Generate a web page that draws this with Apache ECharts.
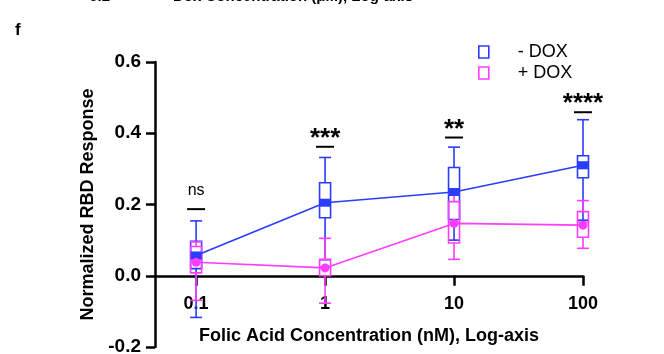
<!DOCTYPE html>
<html>
<head>
<meta charset="utf-8">
<script src="https://cdn.jsdelivr.net/npm/echarts@6/dist/echarts.min.js"></script>
<style>
  html, body { margin: 0; padding: 0; background: #fff; }
  #chart { width: 664px; height: 354px; }
</style>
</head>
<body>
<div id="chart"></div>
<script>
var concentrations = [0.1, 1, 10, 100];

// - DOX box and whisker values
var minusDoxMin    = [-0.117, 0.045, 0.100, 0.156];
var minusDoxQ1     = [0.020, 0.163, 0.158, 0.275];
var minusDoxMedian = [0.058, 0.205, 0.240, 0.318];
var minusDoxQ3     = [0.097, 0.261, 0.304, 0.337];
var minusDoxMax    = [0.154, 0.332, 0.361, 0.438];
var minusDoxMean   = [0.057, 0.205, 0.235, 0.310];

// + DOX box and whisker values
var plusDoxMin    = [-0.069, -0.077, 0.046, 0.077];
var plusDoxQ1     = [0.008, 0.000, 0.092, 0.108];
var plusDoxMedian = [0.045, 0.025, 0.150, 0.150];
var plusDoxQ3     = [0.082, 0.046, 0.208, 0.180];
var plusDoxMax    = [0.095, 0.105, 0.229, 0.211];
var plusDoxMean   = [0.038, 0.022, 0.147, 0.142];

// significance marks
var sigLabels = ['ns', '***', '**', '****'];
var sigBarValues = [0.187, 0.362, 0.388, 0.459];

var BLUE = '#2a3cff';
var PINK = '#ff3cff';
var FONT = '"Liberation Sans", Arial, Helvetica, sans-serif';

function boxData(mn, q1, md, q3, mx) {
    return concentrations.map(function (c, i) {
        return [c, mn[i], q1[i], md[i], q3[i], mx[i]];
    });
}

function meanData(means) {
    return concentrations.map(function (c, i) {
        return [c, means[i]];
    });
}

function makeBoxRenderer(color) {
    return function (params, api) {
        var x = api.value(0);
        var pMin = api.coord([x, api.value(1)]);
        var pQ1 = api.coord([x, api.value(2)]);
        var pMed = api.coord([x, api.value(3)]);
        var pQ3 = api.coord([x, api.value(4)]);
        var pMax = api.coord([x, api.value(5)]);
        var cx = pMin[0];
        var hw = 5.5;   // half box width
        var cw = 6;     // half cap width
        var st = { stroke: color, lineWidth: 1.6, fill: null };
        return {
            type: 'group',
            children: [
                { type: 'line', shape: { x1: cx, y1: pMax[1], x2: cx, y2: pQ3[1] }, style: st },
                { type: 'line', shape: { x1: cx, y1: pQ1[1], x2: cx, y2: pMin[1] }, style: st },
                { type: 'line', shape: { x1: cx - cw, y1: pMax[1], x2: cx + cw, y2: pMax[1] }, style: st },
                { type: 'line', shape: { x1: cx - cw, y1: pMin[1], x2: cx + cw, y2: pMin[1] }, style: st },
                { type: 'rect', shape: { x: cx - hw, y: pQ3[1], width: hw * 2, height: pQ1[1] - pQ3[1] }, style: st },
                { type: 'line', shape: { x1: cx - hw, y1: pMed[1], x2: cx + hw, y2: pMed[1] }, style: st }
            ]
        };
    };
}

var sigData = concentrations.map(function (c, i) {
    return [c, sigBarValues[i]];
});

var chart = echarts.init(document.getElementById('chart'), null, { renderer: 'canvas' });

// grid spans -0.2..0.6 over 285px, the x axis sits at 0 -> 71.25px above the bottom
var option = {
    animation: false,
    textStyle: { fontFamily: FONT },
    grid: { left: 155, right: 81, top: 62, bottom: 7, containLabel: false, outerBoundsMode: 'none' },
    legend: {
        orient: 'vertical',
        left: 473,
        top: 38,
        itemWidth: 10,
        itemHeight: 12,
        itemGap: 3,
        icon: 'rect',
        selectedMode: false,
        textStyle: { fontSize: 18, color: '#000', fontFamily: FONT, padding: [0, 0, 0, 24] },
        data: [
            { name: '- DOX', itemStyle: { color: 'transparent', borderColor: BLUE, borderWidth: 1.6 } },
            { name: '+ DOX', itemStyle: { color: 'transparent', borderColor: PINK, borderWidth: 1.6 } }
        ]
    },
    xAxis: {
        type: 'log',
        logBase: 10,
        min: 0.048,
        max: 100,
        offset: -71.25,
        name: 'Folic Acid Concentration (nM), Log-axis',
        nameLocation: 'middle',
        nameGap: 51,
        nameTextStyle: { fontSize: 18, fontWeight: 'bold', color: '#000', fontFamily: FONT },
        axisLine: { onZero: false, lineStyle: { color: '#000', width: 2.5 } },
        axisTick: { show: true, length: 10, lineStyle: { color: '#000', width: 2.5 }, customValues: concentrations },
        axisLabel: {
            customValues: concentrations,
            margin: 19,
            fontSize: 18,
            fontWeight: 'bold',
            color: '#000',
            fontFamily: FONT,
            formatter: function (v) { return String(v); }
        },
        splitLine: { show: false },
        minorTick: { show: false }
    },
    yAxis: {
        type: 'value',
        min: -0.2,
        max: 0.6,
        interval: 0.2,
        name: 'Normalized RBD Response',
        nameLocation: 'middle',
        nameGap: 58,
        nameTextStyle: { fontSize: 18, fontWeight: 'bold', color: '#000', fontFamily: FONT },
        axisLine: { show: true, onZero: false, lineStyle: { color: '#000', width: 2.5 } },
        axisTick: { show: true, length: 9, lineStyle: { color: '#000', width: 2.5 } },
        axisLabel: {
            margin: 14,
            fontSize: 19,
            fontWeight: 'bold',
            color: '#000',
            fontFamily: FONT,
            formatter: function (v) { return v.toFixed(1); }
        },
        splitLine: { show: false }
    },
    graphic: [
        { type: 'text', left: 15, top: 22, style: { text: 'f', fontSize: 17, fontWeight: 'bold', fill: '#000', fontFamily: FONT } },
        { type: 'text', x: 110, y: 4, style: { text: '-0.2', fontSize: 15, fontWeight: 'bold', fill: '#000', fontFamily: FONT, align: 'right', verticalAlign: 'bottom' } },
        { type: 'text', x: 173, y: 4, style: { text: 'Dox Concentration (μM), Log-axis', fontSize: 15, fontWeight: 'bold', fill: '#000', fontFamily: FONT, verticalAlign: 'bottom' } }
    ],
    series: [
        {
            name: '- DOX',
            type: 'custom',
            z: 2,
            renderItem: makeBoxRenderer(BLUE),
            encode: { x: 0, y: [1, 2, 3, 4, 5] },
            data: boxData(minusDoxMin, minusDoxQ1, minusDoxMedian, minusDoxQ3, minusDoxMax),
            itemStyle: { color: BLUE }
        },
        {
            name: '+ DOX',
            type: 'custom',
            z: 3,
            renderItem: makeBoxRenderer(PINK),
            encode: { x: 0, y: [1, 2, 3, 4, 5] },
            data: boxData(plusDoxMin, plusDoxQ1, plusDoxMedian, plusDoxQ3, plusDoxMax),
            itemStyle: { color: PINK }
        },
        {
            name: '- DOX',
            type: 'line',
            z: 4,
            data: meanData(minusDoxMean),
            symbol: 'rect',
            symbolSize: [11, 8],
            showAllSymbol: true,
            lineStyle: { color: BLUE, width: 1.6 },
            itemStyle: { color: BLUE }
        },
        {
            name: '+ DOX',
            type: 'line',
            z: 5,
            data: meanData(plusDoxMean),
            symbol: 'circle',
            symbolSize: 9,
            showAllSymbol: true,
            lineStyle: { color: PINK, width: 1.6 },
            itemStyle: { color: PINK }
        },
        {
            name: 'significance',
            type: 'custom',
            z: 6,
            encode: { x: 0, y: 1 },
            data: sigData,
            renderItem: function (params, api) {
                var p = api.coord([api.value(0), api.value(1)]);
                var label = sigLabels[params.dataIndex];
                var isNs = label === 'ns';
                return {
                    type: 'group',
                    children: [
                        { type: 'line', shape: { x1: p[0] - 9, y1: p[1], x2: p[0] + 9, y2: p[1] }, style: { stroke: '#000', lineWidth: 2 } },
                        {
                            type: 'text',
                            x: p[0],
                            y: isNs ? p[1] - 19 : p[1] - 8,
                            style: {
                                text: label,
                                align: 'center',
                                verticalAlign: 'middle',
                                fontSize: isNs ? 16 : 26,
                                fontWeight: isNs ? 'normal' : 'bold',
                                fontFamily: FONT,
                                fill: '#000'
                            }
                        }
                    ]
                };
            }
        }
    ]
};

chart.setOption(option);
window.addEventListener('resize', chart.resize);
</script>
</body>
</html>
